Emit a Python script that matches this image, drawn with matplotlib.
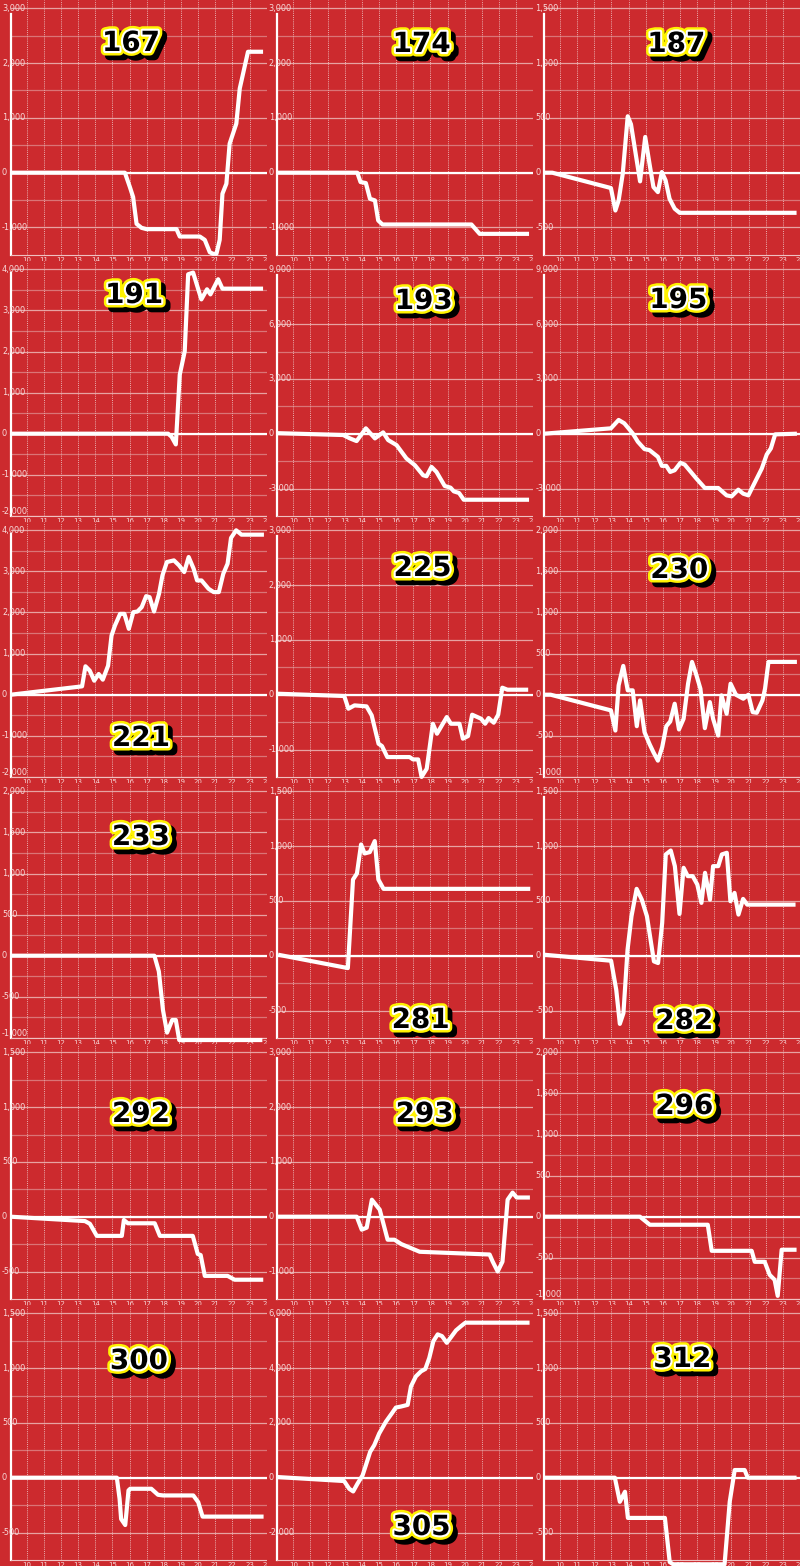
import matplotlib
matplotlib.use('Agg')
import matplotlib.pyplot as plt
import matplotlib.patheffects as pe
import matplotlib.transforms as mtransforms

# ---------------- data ----------------
titles = ['167', '174', '187', '191', '193', '195', '221', '225', '230',
          '233', '281', '282', '292', '293', '296', '300', '305', '312']

h167 = [9.07, 15.73, 16.02, 16.21, 16.41, 16.70, 16.99, 18.74, 18.93, 20.10, 20.39, 20.68, 20.87, 21.07, 21.26, 21.42, 21.65, 21.84, 22.23, 22.43, 22.91, 23.79]
v167 = [0, 0, -262, -445, -933, -1006, -1030, -1030, -1165, -1165, -1226, -1451, -1480, -1480, -1226, -384, -201, 530, 896, 1537, 2207, 2207]

h174 = [9.07, 13.73, 13.92, 14.23, 14.47, 14.76, 14.95, 15.20, 20.39, 20.87, 23.75]
v174 = [0, 0, -171, -189, -476, -506, -872, -945, -945, -1116, -1116]

h187 = [9.07, 9.55, 12.97, 13.23, 13.42, 13.66, 13.95, 14.14, 14.67, 14.97, 15.22, 15.45, 15.71, 15.94, 16.16, 16.39, 16.69, 16.98, 23.80]
v187 = [0, 0, -140, -345, -253, -9, 515, 442, -79, 326, 82, -131, -177, 6, -70, -238, -329, -366, -366]

h191 = [9.07, 18.25, 18.45, 18.70, 18.93, 19.22, 19.42, 19.71, 20.19, 20.52, 20.72, 21.17, 21.42, 23.79]
v191 = [0, 0, -73, -261, 1434, 2005, 3879, 3920, 3268, 3513, 3390, 3757, 3529, 3529]

h193 = [9.07, 12.91, 13.30, 13.69, 14.23, 14.76, 15.24, 15.53, 16.02, 16.60, 17.09, 17.57, 17.77, 18.06, 18.35, 18.83, 19.17, 19.36, 19.67, 19.94, 23.75]
v193 = [30, -73, -257, -404, 294, -257, 73, -349, -624, -1358, -1725, -2275, -2330, -1817, -2092, -2862, -2954, -3156, -3248, -3615, -3615]

h195 = [9.07, 12.97, 13.42, 13.75, 14.24, 14.54, 14.93, 15.22, 15.71, 15.94, 16.20, 16.43, 16.69, 17.02, 17.27, 17.96, 18.45, 19.23, 19.72, 20.01, 20.40, 20.69, 20.99, 21.28, 21.77, 22.06, 22.30, 22.55, 23.82]
v195 = [0, 294, 752, 569, 18, -440, -844, -899, -1266, -1761, -1761, -2092, -2000, -1596, -1688, -2459, -2972, -2972, -3376, -3431, -3064, -3284, -3376, -2826, -1908, -1138, -807, -37, 0]

h221 = [9.07, 13.23, 13.43, 13.68, 13.94, 14.20, 14.44, 14.75, 14.95, 15.15, 15.45, 15.70, 15.96, 16.22, 16.46, 16.71, 16.97, 17.17, 17.43, 17.72, 17.92, 18.18, 18.59, 18.89, 19.19, 19.45, 19.74, 19.94, 20.20, 20.61, 20.91, 21.21, 21.47, 21.72, 21.92, 22.22, 22.53, 23.84]
v221 = [0, 203, 691, 585, 341, 504, 366, 707, 1439, 1683, 1967, 1967, 1602, 2008, 2024, 2130, 2398, 2374, 2024, 2455, 2902, 3228, 3268, 3146, 2984, 3350, 3065, 2780, 2780, 2577, 2496, 2496, 2943, 3187, 3813, 4000, 3894, 3894]

h225 = [9.07, 12.97, 13.21, 13.57, 14.27, 14.57, 14.97, 15.17, 15.48, 16.78, 16.98, 17.28, 17.48, 17.78, 18.14, 18.38, 18.95, 19.19, 19.69, 19.89, 20.19, 20.43, 20.95, 21.19, 21.39, 21.69, 21.95, 22.19, 22.49, 23.70]
v225 = [18, -24, -256, -195, -213, -377, -895, -937, -1138, -1138, -1181, -1181, -1500, -1351, -530, -712, -408, -530, -530, -803, -755, -365, -438, -530, -426, -511, -365, 128, 91, 91]

h230 = [9.07, 9.45, 12.97, 13.23, 13.42, 13.69, 13.95, 14.24, 14.48, 14.67, 14.93, 15.22, 15.45, 15.71, 15.96, 16.20, 16.43, 16.69, 16.94, 17.21, 17.47, 17.70, 17.96, 18.19, 18.45, 18.74, 18.93, 19.23, 19.42, 19.72, 19.95, 20.26, 20.69, 20.99, 21.24, 21.48, 21.81, 21.96, 22.16, 23.82]
v230 = [0, 0, -191, -436, 114, 350, 53, 53, -383, -69, -456, -599, -700, -802, -639, -383, -326, -110, -423, -293, 134, 399, 236, 73, -407, -90, -293, -497, -8, -232, 134, 0, -49, 0, -212, -220, -69, 73, 399, 399]

h233 = [9.07, 17.45, 17.71, 17.95, 18.19, 18.49, 18.70, 18.90, 19.14, 23.75]
v233 = [0, 0, -191, -660, -936, -782, -782, -1026, -1026, -1026]

h281 = [9.11, 13.18, 13.48, 13.71, 13.95, 14.16, 14.46, 14.75, 14.96, 15.26, 23.82]
v281 = [9, -113, 695, 750, 1015, 933, 945, 1046, 695, 610, 610]

h282 = [9.07, 12.98, 13.28, 13.49, 13.70, 13.94, 14.17, 14.47, 14.77, 15.07, 15.48, 15.72, 15.96, 16.17, 16.46, 16.70, 16.97, 17.21, 17.45, 17.74, 18.01, 18.25, 18.46, 18.75, 18.93, 19.23, 19.44, 19.73, 19.94, 20.18, 20.41, 20.68, 20.92, 23.74]
v282 = [9, -46, -311, -622, -524, 55, 360, 610, 512, 360, -52, -67, 299, 924, 960, 817, 381, 802, 726, 726, 649, 482, 756, 512, 817, 817, 924, 939, 497, 573, 375, 518, 466, 466]

h292 = [9.07, 13.40, 13.69, 14.09, 15.55, 15.67, 15.90, 17.47, 17.77, 19.69, 19.98, 20.15, 20.39, 21.72, 22.13, 23.80]
v292 = [0, -40, -65, -175, -175, -30, -60, -60, -175, -175, -340, -350, -540, -540, -575, -575]

h293 = [9.07, 13.70, 13.99, 14.28, 14.58, 15.04, 15.50, 15.90, 16.30, 16.80, 17.37, 21.45, 21.63, 21.92, 22.20, 22.50, 22.79, 23.03, 23.80]
v293 = [0, 0, -237, -200, 310, 128, -420, -420, -500, -565, -640, -690, -820, -1000, -820, 310, 440, 350, 350]

h296 = [9.07, 14.66, 15.24, 18.62, 18.85, 21.18, 21.36, 21.94, 22.23, 22.52, 22.70, 22.93, 23.80]
v296 = [0, 0, -98, -98, -415, -415, -549, -549, -707, -768, -963, -402, -402]

h300 = [9.07, 15.26, 15.42, 15.51, 15.75, 15.94, 16.04, 17.27, 17.66, 17.96, 19.72, 20.01, 20.26, 23.82]
v300 = [0, 0, -193, -377, -432, -116, -101, -101, -156, -162, -162, -224, -355, -355]

h305 = [9.07, 12.96, 13.26, 13.49, 13.74, 14.04, 14.23, 14.48, 14.72, 15.01, 15.40, 15.75, 15.98, 16.28, 16.67, 16.86, 17.15, 17.45, 17.70, 17.93, 18.17, 18.42, 18.67, 18.95, 19.20, 19.49, 19.79, 20.04, 23.78]
v305 = [24, -122, -404, -502, -220, 86, 453, 943, 1188, 1617, 2045, 2351, 2560, 2597, 2658, 3331, 3699, 3882, 3968, 4372, 4985, 5230, 5168, 4923, 5131, 5377, 5536, 5658, 5658]

h312 = [9.07, 13.20, 13.49, 13.79, 13.96, 16.12, 16.40, 16.60, 19.60, 19.90, 20.19, 20.77, 20.95, 23.80]
v312 = [0, 0, -220, -128, -367, -367, -770, -790, -790, -220, 70, 70, 0, 0]

hours = [h167, h174, h187, h191, h193, h195, h221, h225, h230,
         h233, h281, h282, h292, h293, h296, h300, h305, h312]
values = [v167, v174, v187, v191, v193, v195, v221, v225, v230,
          v233, v281, v282, v292, v293, v296, v300, v305, v312]

# y scale per panel: major step and layout ('A' = 5 labelled ticks, 'B' = 7)
y_steps = [1000, 1000, 500, 1000, 3000, 3000, 1000, 1000, 500,
           500, 500, 500, 500, 1000, 500, 500, 2000, 500]
y_layouts = ['A', 'A', 'A', 'B', 'A', 'A', 'B', 'A', 'B',
             'B', 'A', 'A', 'A', 'A', 'B', 'A', 'A', 'A']

x_tick_labels = ['10', '11', '12', '13', '14', '15', '16', '17', '18',
                 '19', '20', '21', '22', '23', '24']

# title label centre positions inside each panel (pixels from panel top-left)
title_pos = [(131, 43), (155, 44), (143, 44), (134, 34), (157, 40), (145, 39),
             (141, 216), (156, 46), (146, 48), (141, 54), (154, 237), (151, 238),
             (141, 70), (158, 70), (151, 62), (139, 56), (155, 222), (149, 54)]

# ---------------- style ----------------
W, H = 800, 1566
BG = '#cc2a2e'
LBL = '#f7dada'
GRID_MAJ = '#e7a2a2'
GRID_MIN = '#da7476'
VGRID = '#eab0b0'

fig = plt.figure(figsize=(W / 100, H / 100), dpi=100)
fig.patch.set_facecolor(BG)

PW = W / 3.0
PH = 261.0
AX_L = 10.7
AX_B = 254.9

for i in range(18):
    r, c = divmod(i, 3)
    x0 = c * PW
    y0 = r * PH
    ph = min(PH, H - y0)
    # background panel (covers overflow of previous panels)
    bg = fig.add_axes([x0 / W, 1 - (y0 + ph) / H, PW / W, ph / H])
    bg.set_facecolor(BG)
    bg.set_xticks([]); bg.set_yticks([])
    for s in bg.spines.values():
        s.set_visible(False)

    aw = PW - AX_L
    ax = fig.add_axes([(x0 + AX_L) / W, 1 - (y0 + AX_B) / H, aw / W, AX_B / H])
    ax.set_facecolor('none')
    s = y_steps[i]
    if y_layouts[i] == 'A':
        lo, hi = -1.5 * s, 3 * s + 8.3 / 54.8 * s
        majors = [-s, 0, s, 2 * s, 3 * s]
    else:
        lo, hi = -2 * s, 4 * s + 8.3 / 41.1 * s
        majors = [-2 * s, -s, 0, s, 2 * s, 3 * s, 4 * s]
    ax.set_ylim(lo, hi)
    ax.set_xlim(9.068, 23.976)

    # horizontal grid
    for m in majors:
        ax.axhline(m, color=GRID_MAJ, lw=0.9, zorder=1)
        if m + s / 2 < hi:
            ax.axhline(m + s / 2, color=GRID_MIN, lw=0.9, zorder=1)
    # vertical dotted grid
    for hh in range(10, 25):
        ax.axvline(hh, color=VGRID, lw=0.7, ls=(0, (1, 1.2)), zorder=1)
    ax.axhline(0, color='white', lw=1.6, zorder=2)

    ax.plot(hours[i], values[i], color='white', lw=3.0, zorder=4,
            solid_joinstyle='round', solid_capstyle='butt', clip_on=False)

    # spines
    for k in ('top', 'right'):
        ax.spines[k].set_visible(False)
    ax.spines['left'].set_color('white')
    ax.spines['left'].set_linewidth(1.6)
    ax.spines['left'].set_bounds(lo, majors[-1] - 0.1 * s)
    ax.spines['bottom'].set_color('#f0c0c0')
    ax.spines['bottom'].set_linewidth(0.8)

    ax.set_yticks([])
    ax.set_xticks(list(range(10, 25)))
    ax.set_xticklabels(x_tick_labels, fontsize=5, color=LBL)
    ax.tick_params(axis='x', length=0, pad=1.5)

    # y labels, left aligned at panel x=2
    tr = mtransforms.blended_transform_factory(ax.transAxes, ax.transData)
    xl = (2 - AX_L) / aw
    for m in majors:
        va = 'bottom' if m == lo else 'center'
        ax.text(xl, m, '{:,}'.format(int(m)), transform=tr, fontsize=5.9,
                color=LBL, ha='left', va=va, clip_on=False, zorder=5)

    # title label
    cx, cy = title_pos[i]
    ax.text((cx - AX_L) / aw, 1 - cy / AX_B, titles[i], transform=ax.transAxes,
            fontsize=20, fontweight='bold', family='DejaVu Sans',
            color='black', ha='center', va='center', zorder=10, clip_on=False,
            path_effects=[pe.Stroke(linewidth=7, foreground='black', offset=(3.2, -3.2)),
                          pe.Stroke(linewidth=6.5, foreground='#fff200'),
                          pe.Stroke(linewidth=3, foreground='white'),
                          pe.Normal()])

fig.savefig('out.png', dpi=100, facecolor=BG)
